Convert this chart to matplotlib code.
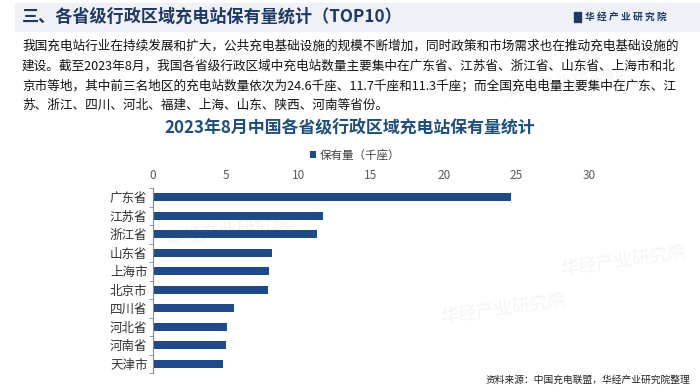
#!/usr/bin/env python3

"""Horizontal bar chart: charging stations by province, Aug 2023 (TOP10)."""

import matplotlib
matplotlib.use("Agg")
import matplotlib.pyplot as plt
from matplotlib.patches import Rectangle

plt.rcParams['font.family'] = ['Noto Sans CJK SC', 'DejaVu Sans']

# * Data

provinces = ["广东省", "江苏省", "浙江省", "山东省", "上海市",
             "北京市", "四川省", "河北省", "河南省", "天津市"]
stations = [24.6, 11.7, 11.3, 8.2, 8.0, 7.9, 5.6, 5.1, 5.0, 4.8]
x_ticks = [0, 5, 10, 15, 20, 25, 30]

header = "三、各省级行政区域充电站保有量统计（TOP10）"
body = ("我国充电站行业在持续发展和扩大，公共充电基础设施的规模不断增加，同时政策和市场需求也在推动充电基础设施的\n"
        "建设。截至2023年8月，我国各省级行政区域中充电站数量主要集中在广东省、江苏省、浙江省、山东省、上海市和北\n"
        "京市等地，其中前三名地区的充电站数量依次为24.6千座、11.7千座和11.3千座；而全国充电电量主要集中在广东、江\n"
        "苏、浙江、四川、河北、福建、上海、山东、陕西、河南等省份。")
chart_title = "2023年8月中国各省级行政区域充电站保有量统计"
legend_label = "保有量（千座）"
source = "资料来源：中国充电联盟，华经产业研究院整理"

BAR = "#1f4a87"
W, H = 700, 389

fig = plt.figure(figsize=(7, 3.89), dpi=100)

# * Header band and logo

fig.patches.append(Rectangle((15 / W, 1 - 31 / H), 685 / W, 28 / H,
                             transform=fig.transFigure, color="#eef2f8", zorder=-2))
fig.text(22 / W, 1 - 17 / H, header, fontsize=12.3, fontweight="bold",
         color="#1f3864", va="center", ha="left")
for dx in (0, 4):
    fig.patches.append(Rectangle(((574 + dx) / W, 1 - 22 / H), 2.5 / W, 10 / H,
                                 transform=fig.transFigure, color="#1f3864"))
fig.text(585 / W, 1 - 17 / H, "华 经 产 业 研 究 院", fontsize=7, fontweight="bold",
         color="#1f3864", va="center", ha="left")

# * Faint watermarks

for (wx, wy) in [(500, 85), (165, 232), (560, 262), (440, 310)]:
    fig.text(wx / W, 1 - wy / H, "华经产业研究院", fontsize=13, color="#f1f4f8",
             rotation=8, ha="left", va="center", zorder=-1)

# * Body text

fig.text(22 / W, 1 - 40 / H, body, fontsize=9.1, color="#111111",
         va="top", ha="left", linespacing=1.66)

# * Chart

fig.text(350 / W, 1 - 127 / H, chart_title, fontsize=12.2, fontweight="bold",
         color="#1f4e79", ha="center", va="center")

ax = fig.add_axes([153 / W, 1 - 373 / H, 436 / W, 185 / H])
y = list(range(len(provinces)))
ax.barh(y, stations, height=0.45, color=BAR, label=legend_label)
ax.set_ylim(len(provinces) - 0.5, -0.5)
ax.set_xlim(0, 30)
ax.set_yticks(y)
ax.set_yticklabels(provinces, fontsize=9, color="#333333")
ax.set_yticks([i - 0.5 for i in range(len(provinces) + 1)], minor=True)
ax.tick_params(axis="y", which="major", length=0, pad=4)
ax.tick_params(axis="y", which="minor", length=3, color="#888888")

ax.xaxis.tick_top()
ax.set_xticks(x_ticks)
ax.set_xticklabels([str(t) for t in x_ticks], fontsize=8.5, color="#595959")
ax.tick_params(axis="x", length=0, pad=4)

for s in ("top", "right", "bottom"):
    ax.spines[s].set_visible(False)
ax.spines["left"].set_color("#888888")
ax.patch.set_alpha(0)

ax.legend(loc="center", bbox_to_anchor=(355 / W, 1 - 155 / H),
          bbox_transform=fig.transFigure, frameon=False, fontsize=8.3,
          handlelength=0.6, handleheight=0.6, handletextpad=0.3,
          labelcolor="#404040")

fig.text(690 / W, 1 - 380 / H, source, fontsize=7, color="#222222",
         ha="right", va="center")

fig.savefig("out.png", dpi=100)
